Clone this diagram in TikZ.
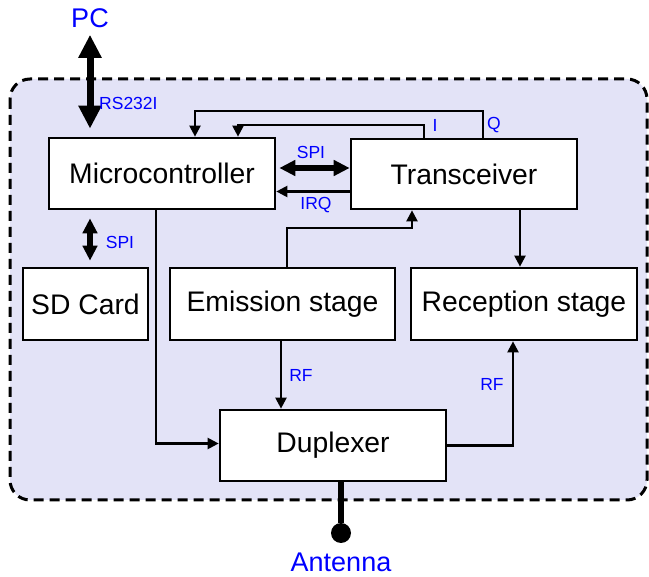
\documentclass[tikz,border=0pt]{standalone}
\usepackage{fontspec}
\setmainfont{Liberation Sans}
\usepackage{tikz}
\usetikzlibrary{arrows.meta,positioning,calc}
\usepackage{xcolor}
\definecolor{panel}{RGB}{227,227,247}
\definecolor{lblue}{RGB}{0,0,255}

\begin{document}
\begin{tikzpicture}[x=1pt,y=-1pt,
  blk/.style={draw,fill=white,line width=2.7pt,inner sep=0pt,font=\fontsize{28.3}{30}\selectfont},
  arr/.style={line width=2.2pt,-{Triangle[length=11pt,width=11pt]}},
  bigarr/.style 2 args={line width=#1,{Triangle[length=#2,width=0.95*#2]}-{Triangle[length=#2,width=0.95*#2]}},
  lbl/.style={text=lblue,inner sep=0pt,font=\fontsize{17.5}{20}\selectfont},
  ext/.style={text=lblue,inner sep=0pt,font=\fontsize{27}{30}\selectfont}]
\useasboundingbox (0,0) rectangle (649,577);
\draw[fill=panel,line width=3pt,dash pattern=on 10pt off 6pt,rounded corners=20pt] (10,79) rectangle (647,500);
% blocks
\node[blk,minimum width=226pt,minimum height=71pt] (micro) at (162,173.5) {Microcontroller};
\node[blk,minimum width=226pt,minimum height=70pt] (trans) at (464,174) {Transceiver};
\node[blk,minimum width=125pt,minimum height=72pt] (sd) at (85.5,304) {SD Card};
\node[blk,minimum width=225pt,minimum height=72pt] (emit) at (282.5,304) {Emission stage};
\node[blk,minimum width=226pt,minimum height=72pt] (recv) at (524,304) {Reception stage};
\node[blk,minimum width=226pt,minimum height=71pt] (dup) at (333,445.5) {Duplexer};
% outside
\node[ext] (pc) at (90,18) {PC};
\node[circle,fill,minimum size=20pt,inner sep=0pt] (ant) at (341,533) {};
\node[ext] (antlbl) at (341,562) {Antenna};
% connectors
\draw[bigarr={7pt}{23pt},shorten <=7pt,shorten >=8pt] (pc.south) -- (pc.south |- micro.north);
\draw[bigarr={5.5pt}{16pt},shorten <=3pt] ([yshift=5.5pt]micro.east) -- ([yshift=5.5pt]micro.east -| trans.west);
\draw[bigarr={5.5pt}{15pt},shorten <=6pt,shorten >=8pt] ([xshift=4.5pt]sd.north) -- ([xshift=4.5pt]sd.north |- micro.south);
\draw[arr] ([yshift=-17.5pt]trans.west) -- ([yshift=-17.5pt]trans.west -| micro.east);
\draw[arr] ([xshift=-40pt]trans.north) -- ++(0,-13) -| ([xshift=76pt]micro.north);
\draw[arr] ([xshift=19pt]trans.north) -- ++(0,-27) -| ([xshift=33pt]micro.north);
\draw[arr] ([xshift=-6pt]micro.south) |- ([yshift=2pt]dup.west);
\draw[arr] ([xshift=-1.5pt]emit.south) -- ([xshift=-1.5pt]emit.south |- dup.north);
\draw[arr] ([xshift=4.5pt]emit.north) -- ++(0,-39) -| ([xshift=-52pt]trans.south);
\draw[arr] ([xshift=56pt]trans.south) -- ([xshift=56pt]trans.south |- recv.north);
\draw[arr] (dup.east) -| ([xshift=-11pt]recv.south);
\draw[line width=6pt] (ant) -- (ant |- dup.south);
% labels
\node[lbl,anchor=west] (rs) at (99,103) {RS232I};
\node[lbl] (spi1) at (311,152.5) {SPI};
\node[lbl] (irq) at (316,205) {IRQ};
\node[lbl] (spi2) at (120,242) {SPI};
\node[lbl] (ilbl) at (435,125) {I};
\node[lbl] (qlbl) at (494,125) {Q};
\node[lbl] (rf1) at (301,375) {RF};
\node[lbl] (rf2) at (492,384) {RF};
\end{tikzpicture}
\end{document}
